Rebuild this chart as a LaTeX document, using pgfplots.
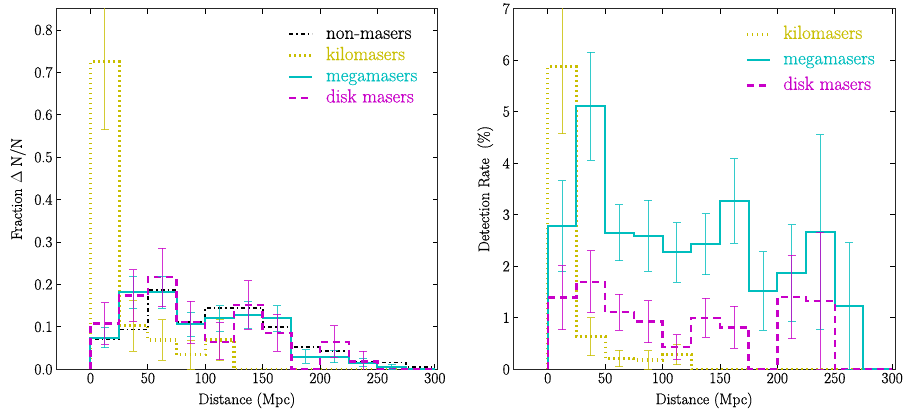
\RequirePackage{fix-cm}
\documentclass[border=0pt]{standalone}
\usepackage{fontspec}
\setmainfont{Latin Modern Roman}[FakeBold=0.6]
\usepackage{pgfplots}
\pgfplotsset{compat=1.18}
\definecolor{kilo}{RGB}{200,190,0}
\definecolor{mega}{RGB}{0,190,190}
\definecolor{disk}{RGB}{200,0,200}
\newcommand{\tfont}{\fontsize{15.5}{18}\selectfont}
\newcommand{\lfont}{\fontsize{19}{22}\selectfont}
\pgfplotsset{
  myaxis/.style={
    scale only axis, width=381.7pt, height=360.6pt,
    xmin=-30, xmax=302.5, ymin=0,
    xtick={0,50,100,150,200,250,300},
    tick align=inside, tick pos=both,
    xticklabel pos=lower, yticklabel pos=left,
    major tick length=5pt,
    axis line style={black!85, line width=0.8pt},
    tick style={black, line width=0.8pt},
    tick label style={font=\tfont},
    label style={font=\tfont},
    /pgf/number format/assume math mode=true,
    legend cell align=left,
    legend style={draw=none, fill=none, inner sep=0pt, anchor=north west,
      nodes={inner sep=0pt, text height=13pt, text depth=4pt},
      /tikz/every odd column/.append style={column sep=12pt}},
    legend image code/.code={\draw[##1] (0pt,0pt) -- (23pt,0pt);},
  },
  nonst/.style={black, line width=1.8pt, dash pattern=on 4pt off 3pt on 1.5pt off 3pt},
  kilost/.style={kilo, line width=3.2pt, dash pattern=on 1.7pt off 3.3pt},
  megast/.style={mega, line width=2pt},
  diskst/.style={disk, line width=2.4pt, dash pattern=on 7pt off 5pt},
  ebar/.style={draw=none, mark=none, error bars/.cd, y dir=both, y explicit,
    error bar style={draw=#1, line width=0.9pt, opacity=0.8},
    error mark options={draw=#1, rotate=90, mark size=4pt, line width=0.9pt, opacity=0.8}},
}
\begin{document}
\begin{tikzpicture}
\path[use as bounding box] (0pt,0pt) rectangle (908pt,411pt);
% ---------------- left panel ----------------
\begin{axis}[myaxis, at={(56pt,41.7pt)}, anchor=south west,
  ymax=0.85, ytick={0,0.1,0.2,0.3,0.4,0.5,0.6,0.7,0.8},
  yticklabel style={/pgf/number format/.cd, fixed, fixed zerofill, precision=1},
  xlabel={Distance (Mpc)}, ylabel={Fraction $\Delta$ N/N},
  xlabel style={at={(axis description cs:0.5,-0.086)}, anchor=center},
  ylabel style={at={(axis description cs:-0.0996,0.5)}, anchor=center},
  legend style={at={(axis description cs:0.607,0.953)}, row sep=4.2pt}]
\addplot[nonst, const plot] coordinates {(0,0)(0,0.071)(25,0.094)(50,0.187)(75,0.112)(100,0.145)(125,0.145)(150,0.100)(175,0.053)(200,0.044)(225,0.018)(250,0.016)(275,0.006)(300,0.006)};
\addlegendentry{\lfont non-masers}
\addplot[kilost, const plot] coordinates {(0,0)(0,0.725)(25,0.103)(50,0.069)(75,0.034)(100,0.069)(125,0)(150,0)(175,0)(200,0)(225,0)(250,0)(275,0)(300,0)};
\addlegendentry{\lfont\textcolor{kilo}{kilomasers}}
\addplot[megast, const plot] coordinates {(0,0)(0,0.0745)(25,0.1815)(50,0.1815)(75,0.106)(100,0.120)(125,0.128)(150,0.120)(175,0.030)(200,0.030)(225,0.0157)(250,0.006)(275,0)(300,0)};
\addlegendentry{\lfont\textcolor{mega}{megamasers}}
\addplot[diskst, const plot] coordinates {(0,0)(0,0.108)(25,0.174)(50,0.217)(75,0.111)(100,0.065)(125,0.152)(150,0.086)(175,0)(200,0.065)(225,0.018)(250,0)(275,0)(300,0)};
\addlegendentry{\lfont\textcolor{disk}{disk masers}}
\addplot[forget plot, ebar=kilo] coordinates {(12.5,0.725)+-(0,0.16) (37.5,0.103)+-(0,0.06) (62.5,0.069)+-(0,0.048) (87.5,0.034)+-(0,0.035) (112.5,0.069)+-(0,0.049)};
\addplot[forget plot, ebar=mega] coordinates {(12.5,0.0745)+-(0,0.024) (37.5,0.1815)+-(0,0.037) (62.5,0.1815)+-(0,0.037) (87.5,0.106)+-(0,0.029) (112.5,0.120)+-(0,0.030) (137.5,0.128)+-(0,0.031) (162.5,0.120)+-(0,0.030) (187.5,0.030)+-(0,0.016) (212.5,0.030)+-(0,0.015) (237.5,0.0157)+-(0,0.010) (262.5,0.006)+-(0,0.006)};
\addplot[forget plot, ebar=disk] coordinates {(12.5,0.108)+-(0,0.049) (37.5,0.174)+-(0,0.061) (62.5,0.217)+-(0,0.069) (87.5,0.111)+-(0,0.049) (112.5,0.067)+-(0,0.043) (137.5,0.152)+-(0,0.057) (162.5,0.086)+-(0,0.044) (212.5,0.065)+-(0,0.038) (237.5,0.018)+-(0,0.025)};
\end{axis}
% ---------------- right panel ----------------
\begin{axis}[myaxis, at={(513.3pt,41.7pt)}, anchor=south west,
  ymax=7, ytick={0,1,2,3,4,5,6,7},
  xlabel={Distance (Mpc)}, ylabel={Detection Rate\ \ (\%)},
  xlabel style={at={(axis description cs:0.5,-0.086)}, anchor=center},
  ylabel style={at={(axis description cs:-0.0734,0.5)}, anchor=center},
  legend style={at={(axis description cs:0.607,0.953)}, row sep=8.5pt}]
\addplot[kilost, const plot] coordinates {(0,0)(0,5.876)(25,0.633)(50,0.213)(75,0.18)(100,0.29)(125,0)(150,0)(175,0)(200,0)(225,0)(250,0)(275,0)(300,0)};
\addlegendentry{\lfont\textcolor{kilo}{kilomasers}}
\addplot[megast, const plot] coordinates {(0,0)(0,2.78)(25,5.11)(50,2.65)(75,2.59)(100,2.27)(125,2.43)(150,3.27)(175,1.52)(200,1.864)(225,2.66)(250,1.23)(275,0)(300,0)};
\addlegendentry{\lfont\textcolor{mega}{megamasers}}
\addplot[diskst, const plot] coordinates {(0,0)(0,1.39)(25,1.70)(50,1.107)(75,0.925)(100,0.427)(125,1.0)(150,0.815)(175,0)(200,1.40)(225,1.33)(250,0)(275,0)(300,0)};
\addlegendentry{\lfont\textcolor{disk}{disk masers}}
\addplot[forget plot, ebar=kilo] coordinates {(12.5,5.876)+-(0,1.3) (37.5,0.633)+-(0,0.37) (62.5,0.213)+-(0,0.16) (87.5,0.18)+-(0,0.18) (112.5,0.29)+-(0,0.2)};
\addplot[forget plot, ebar=mega] coordinates {(12.5,2.78)+-(0,0.88) (37.5,5.11)+-(0,1.05) (62.5,2.65)+-(0,0.545) (87.5,2.59)+-(0,0.69) (112.5,2.27)+-(0,0.575) (137.5,2.43)+-(0,0.59) (162.5,3.27)+-(0,0.82) (187.5,1.52)+-(0,0.76) (212.5,1.864)+-(0,0.94) (237.5,2.66)+-(0,1.89) (262.5,1.23)+-(0,1.23)};
\addplot[forget plot, ebar=disk] coordinates {(12.5,1.39)+-(0,0.62) (37.5,1.70)+-(0,0.60) (62.5,1.107)+-(0,0.35) (87.5,0.925)+-(0,0.41) (112.5,0.427)+-(0,0.245) (137.5,1.0)+-(0,0.375) (162.5,0.815)+-(0,0.41) (212.5,1.40)+-(0,0.81) (237.5,1.33)+-(0,1.33)};
\end{axis}
\end{tikzpicture}
\end{document}
